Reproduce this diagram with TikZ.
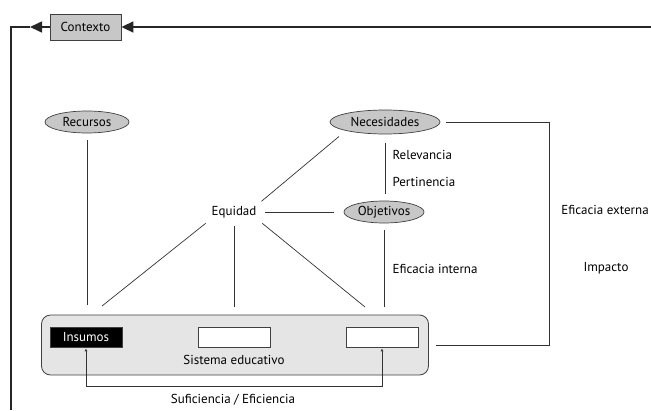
\documentclass[tikz,border=0pt]{standalone}
\usepackage{fontspec}
\setmainfont{PT Sans}
\usetikzlibrary{shapes.geometric,arrows.meta}

\begin{document}
\begin{tikzpicture}[x=1pt,y=-1pt,
  font=\fontsize{13}{15}\selectfont,
  frame/.style={draw=black!85, line width=1.6pt},
  conn/.style={draw=black!80, line width=0.7pt},
  bigtip/.style={-{Triangle[length=12pt,width=11pt]}},
  elli/.style={ellipse, draw=black!75, fill=black!22, line width=0.7pt, inner sep=0pt, minimum width=#1, minimum height=22},
  ctxbox/.style={draw=black!75, fill=black!22, line width=0.8pt, minimum width=71, minimum height=26, inner sep=0pt},
  sisbox/.style={draw=black!75, fill=black!10, line width=0.8pt, rounded corners=9pt, minimum width=387, minimum height=60},
  blank/.style={draw=black!75, fill=white, line width=0.8pt, minimum width=72, minimum height=20, inner sep=0pt}]
\useasboundingbox (0,0) rectangle (651,410);

% contexto and frame
\node[ctxbox] (ctx) at (85.5,27) {Contexto};
\coordinate (tr) at (651,27);
\coordinate (tip) at (30,27);
\coordinate (tl) at (11,27);
\coordinate (bl) at (11,410);
\draw[frame, bigtip] (tr) -- (ctx.east);
\draw[frame, bigtip] (ctx.west) -- (tip);
\draw[frame] (tip) -- (tl) -- (bl);

% sistema educativo
\node[sisbox] (sis) at (235,345) {};
\node[blank, fill=black, text=white] (ins) at (86,337) {Insumos};
\node[blank] (mid) at (234,337) {};
\node[blank] (out) at (382,337) {};
\node (sisname) at (234,360) {Sistema educativo};

% upper nodes
\node[elli=84] (rec) at (87,122) {Recursos};
\node[elli=110, minimum height=24] (nec) at (385,122) {Necesidades};
\node[elli=80] (obj) at (384,212) {Objetivos};
\node (equ) at (234,212) {Equidad};

\node[anchor=west] (rel) at (389,155) {Relevancia};
\node[anchor=west] (per) at (389,182) {Pertinencia};
\node[anchor=west] (efi) at (389,269) {Eficacia interna};
\node (efe) at (605,210) {Eficacia externa};
\node (imp) at (606,268) {Impacto};
\node (suf) at (233,400) {Suficiencia / Eficiencia};

% connectors
\coordinate (a1) at (102,306);
\coordinate (a2) at (234,307);
\coordinate (a3) at (365,307);
\coordinate (a4) at (384,307);
\coordinate (a0) at (87,305);
\coordinate (extc) at (549,345);
\coordinate (bot) at (0,386);

\draw[conn, shorten <=7pt] (rec) -- (a0);
\draw[conn, shorten <=3pt] (equ.south west) -- (a1);
\draw[conn, shorten <=5pt] (equ) -- (a2);
\draw[conn, shorten <=3pt] (equ.south east) -- (a3);
\draw[conn, shorten <=7pt] (obj) -- (a4);
\draw[conn, shorten <=9pt, shorten >=7pt] (nec.south) -- (nec.south |- obj.north);
\draw[conn, shorten <=9pt, shorten >=2pt] (nec.south west) -- (equ.north east);
\draw[conn, shorten <=5pt, shorten >=10pt] (equ) -- (obj);
\draw[conn, shorten <=6pt, shorten >=7pt] (nec.east) -| (extc) -- (sis.east);
\draw[conn, {Latex[length=3pt,width=3pt,fill=white]}-{Latex[length=3pt,width=3pt,fill=white]}, shorten <=1pt, shorten >=1pt] (ins.south) -- (ins.south |- bot) -| (out.south);
\end{tikzpicture}
\end{document}
